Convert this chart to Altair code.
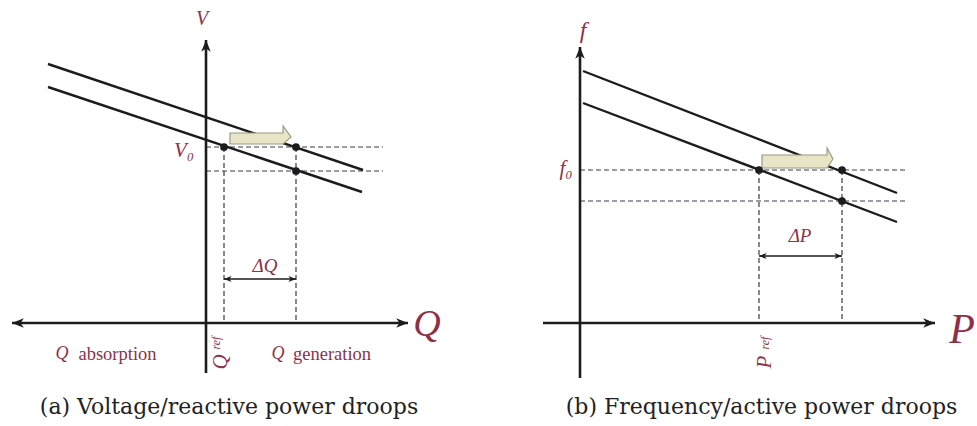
import altair as alt
import pandas as pd

INK = "#1c1c1c"
LABEL = "#8f3048"
DASH = "#3a3a4a"
ARROW_FILL = "#e7e5c5"
ARROW_EDGE = "#9a9a88"
SERIF = "Times New Roman, Liberation Serif, serif"
CAPTION_FONT = "DejaVu Serif"

# Arrow head: tip at the symbol origin, pointing right (rotated with angle)
HEAD = "M0,0L-1,-0.4L-0.72,0L-1,0.4Z"

# ---------------- (a) voltage / reactive power droops ----------------
a_q_axis = [-19.4, 20.2]          # Q axis, arrowed both ways
a_v_axis = [-5.0, 28.3]           # V axis, arrowed upwards
a_upper_q = [-15.8, 15.7]         # shifted droop characteristic
a_upper_v = [25.9, 15.3]
a_lower_q = [-15.8, 15.6]         # original droop characteristic
a_lower_v = [23.6, 13.1]
a_q_ref, a_q_new = 1.8, 9.0
a_v0, a_v_new = 17.6, 15.2
a_guide_end = 17.7
a_delta_level = 4.4
a_shift_q = [2.4, 7.7, 7.71, 8.5]     # outline of the shift arrow
a_shift_lo = [17.9, 17.9, 17.9, 18.6]
a_shift_hi = [19.0, 19.0, 19.7, 18.6]

# ---------------- (b) frequency / active power droops ----------------
b_p_axis = [-3.7, 35.5]
b_f_axis = [-5.5, 27.6]
b_upper_p = [0.3, 31.7]
b_upper_f = [25.2, 13.0]
b_lower_p = [0.3, 31.7]
b_lower_f = [22.0, 10.1]
b_p_ref, b_p_new = 17.9, 26.2
b_f0, b_f_new = 15.3, 12.2
b_guide_end = 32.5
b_delta_level = 6.7
b_shift_p = [18.2, 24.7, 24.71, 25.3]
b_shift_lo = [15.5, 15.5, 15.5, 16.4]
b_shift_hi = [16.8, 16.8, 17.5, 16.4]

Y_DOMAIN = [-10.3, 32.3]
HEIGHT = 426


def droop_panel(width, x_domain, axis_h, axis_v, both_way, upper, lower,
                ref, new, level0, level1, guide_end, delta_level,
                shift, italic_labels, roman_labels, caption):
    xs = alt.Scale(domain=x_domain, nice=False, zero=False)
    ys = alt.Scale(domain=Y_DOMAIN, nice=False, zero=False)

    def X(f):
        return alt.X(f, type="quantitative", scale=xs, axis=None)

    def Y(f):
        return alt.Y(f, type="quantitative", scale=ys, axis=None)

    lines = pd.DataFrame({
        "x": list(upper[0]) + list(lower[0]),
        "y": list(upper[1]) + list(lower[1]),
        "seg": ["upper", "upper", "lower", "lower"],
    })
    droop = alt.Chart(lines).mark_line(color=INK, strokeWidth=2.4).encode(
        x=X("x"), y=Y("y"), detail="seg:N")

    axes_df = pd.DataFrame({
        "x": [axis_h[0], 0.0], "x2": [axis_h[1], 0.0],
        "y": [0.0, axis_v[0]], "y2": [0.0, axis_v[1]],
    })
    axes = alt.Chart(axes_df).mark_rule(color=INK, strokeWidth=2.6).encode(
        x=X("x"), x2="x2", y=Y("y"), y2="y2")

    heads_x = [axis_h[1], 0.0]
    heads_y = [0.0, axis_v[1]]
    heads_a = [0, 270]
    if both_way:
        heads_x.append(axis_h[0])
        heads_y.append(0.0)
        heads_a.append(180)
    heads_s = [560] * len(heads_x)
    # double arrow marking the power change
    heads_x += [ref, new]
    heads_y += [delta_level, delta_level]
    heads_a += [180, 0]
    heads_s += [230, 230]
    heads_df = pd.DataFrame({"x": heads_x, "y": heads_y, "a": heads_a, "s": heads_s})
    heads = alt.Chart(heads_df).mark_point(
        shape=HEAD, filled=True, color=INK, opacity=1, strokeWidth=0).encode(
        x=X("x"), y=Y("y"),
        angle=alt.Angle("a:Q", scale=None),
        size=alt.Size("s:Q", scale=None))

    guides_df = pd.DataFrame({
        "x": [0.0, 0.0, ref, new], "x2": [guide_end, guide_end, ref, new],
        "y": [level0, level1, level0, level0], "y2": [level0, level1, 0.0, 0.0],
    })
    guides = alt.Chart(guides_df).mark_rule(
        color=DASH, strokeWidth=1.2, strokeDash=[5, 3]).encode(
        x=X("x"), x2="x2", y=Y("y"), y2="y2")

    delta_df = pd.DataFrame({"x": [ref], "x2": [new], "y": [delta_level]})
    delta = alt.Chart(delta_df).mark_rule(color=INK, strokeWidth=1.3).encode(
        x=X("x"), x2="x2", y=Y("y"))

    shift_df = pd.DataFrame({"x": shift[0], "lo": shift[1], "hi": shift[2]})
    shift_arrow = alt.Chart(shift_df).mark_area(
        fill=ARROW_FILL, stroke=ARROW_EDGE, strokeWidth=1.2, opacity=1).encode(
        x=X("x"), y=Y("lo"), y2="hi")

    dots_df = pd.DataFrame({"x": [ref, new, new], "y": [level0, level0, level1]})
    dots = alt.Chart(dots_df).mark_point(
        filled=True, color=INK, opacity=1, size=60).encode(x=X("x"), y=Y("y"))

    it_df = pd.DataFrame(italic_labels, columns=["x", "y", "text", "s", "a"])
    italic = alt.Chart(it_df).mark_text(
        font=SERIF, fontStyle="italic", color=LABEL,
        align="center", baseline="middle").encode(
        x=X("x"), y=Y("y"), text="text:N",
        size=alt.Size("s:Q", scale=None), angle=alt.Angle("a:Q", scale=None))

    layers = [guides, droop, axes, delta, heads, shift_arrow, dots, italic]

    if roman_labels:
        rm_df = pd.DataFrame(roman_labels, columns=["x", "y", "text", "s"])
        roman = alt.Chart(rm_df).mark_text(
            font=SERIF, color=LABEL, align="center", baseline="middle").encode(
            x=X("x"), y=Y("y"), text="text:N", size=alt.Size("s:Q", scale=None))
        layers.append(roman)

    cap_df = pd.DataFrame([caption], columns=["x", "y", "text"])
    cap = alt.Chart(cap_df).mark_text(
        font=CAPTION_FONT, fontSize=22, color="#222222",
        align="center", baseline="middle").encode(
        x=X("x"), y=Y("y"), text="text:N")
    layers.append(cap)

    return alt.layer(*layers).properties(width=width, height=HEIGHT)


panel_a = droop_panel(
    470, [-20.6, 26.4], a_q_axis, a_v_axis, True,
    (a_upper_q, a_upper_v), (a_lower_q, a_lower_v),
    a_q_ref, a_q_new, a_v0, a_v_new, a_guide_end, a_delta_level,
    (a_shift_q, a_shift_lo, a_shift_hi),
    [
        (-0.4, 30.4, "V", 20, 0),
        (22.1, -0.2, "Q", 38, 0),
        (-2.2, 17.2, "V₀", 21, 0),
        (5.9, 5.7, "ΔQ", 19, 0),
        (-14.4, -3.1, "Q", 18, 0),
        (7.2, -3.1, "Q", 18, 0),
        (1.5, -3.9, "Q", 21, 270),
        (1.0, -2.0, "ref", 12, 270),
    ],
    [
        (-8.85, -3.1, "absorption", 18.5),
        (12.6, -3.1, "generation", 18.5),
    ],
    (2.3, -8.4, "(a) Voltage/reactive power droops"),
)

panel_b = droop_panel(
    507, [-11.0, 39.7], b_p_axis, b_f_axis, False,
    (b_upper_p, b_upper_f), (b_lower_p, b_lower_f),
    b_p_ref, b_p_new, b_f0, b_f_new, b_guide_end, b_delta_level,
    (b_shift_p, b_shift_lo, b_shift_hi),
    [
        (0.3, 29.2, "f", 24, 0),
        (38.2, -0.7, "P", 42, 0),
        (-1.4, 15.4, "f₀", 21, 0),
        (22.0, 8.7, "ΔP", 19, 0),
        (18.5, -3.9, "P", 21, 270),
        (18.5, -2.0, "ref", 12, 270),
    ],
    [],
    (18.15, -8.4, "(b) Frequency/active power droops"),
)

chart = alt.hconcat(panel_a, panel_b, spacing=0, bounds="flush").properties(
    padding=0,
).configure(background="white").configure_view(stroke=None)

chart.save("out.html", embed_options={"renderer": "svg", "actions": False})
